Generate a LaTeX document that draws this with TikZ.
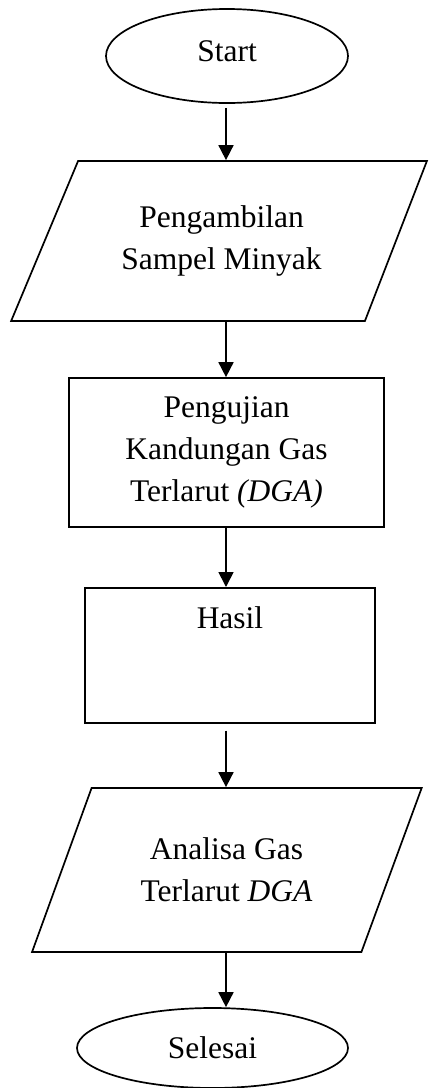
\documentclass[tikz,border=0pt]{standalone}
\usepackage{fontspec}
\setmainfont{Liberation Serif}
\usetikzlibrary{shapes.geometric,arrows.meta}
\begin{document}
\begin{tikzpicture}[x=1pt,y=-1pt,
  fc/.style={draw, line width=1.7pt, inner sep=0pt, align=center,
    font=\fontsize{31.5}{42}\selectfont},
  term/.style={fc, ellipse},
  para/.style={fc, trapezium, trapezium stretches=true},
  box/.style={fc, rectangle},
  arr/.style={line width=1.7pt, -{Triangle[width=15pt,length=15pt]}}]
\useasboundingbox (0,0) rectangle (430,1088);
\coordinate (ax) at (226,0);
\node[term, minimum width=242pt, minimum height=94pt, text height=20pt, text depth=10pt] (start) at (227,56) {Start};
\node[para, trapezium left angle=56.5, trapezium right angle=121.5,
  minimum width=417pt, minimum height=160pt] (p1) at (221.5,241) {Pengambilan\\Sampel Minyak};
\node[box, minimum width=315pt, minimum height=149pt] (b2) at (226.5,452.5)
  {Pengujian\\Kandungan Gas\\Terlarut \textit{(DGA)}};
\node[box, anchor=north, minimum width=290pt, text height=41pt, text depth=94pt] (b3) at (230,587) {Hasil};
\node[para, trapezium left angle=59.4, trapezium right angle=120.9,
  minimum width=391pt, minimum height=164pt] (p2) at (226.5,870) {Analisa Gas\\Terlarut \textit{DGA}};
\node[term, minimum width=271pt, minimum height=80pt] (end) at (212.5,1048) {Selesai};
\draw[arr, shorten <=4pt] (start.south -| ax) -- (p1.north -| ax);
\draw[arr] (p1.south -| ax) -- (b2.north -| ax);
\draw[arr] (b2.south -| ax) -- (b3.north -| ax);
\draw[arr, shorten <=7pt] (b3.south -| ax) -- (p2.north -| ax);
\draw[arr] (p2.south -| ax) -- (end.north -| ax);
\end{tikzpicture}
\end{document}
